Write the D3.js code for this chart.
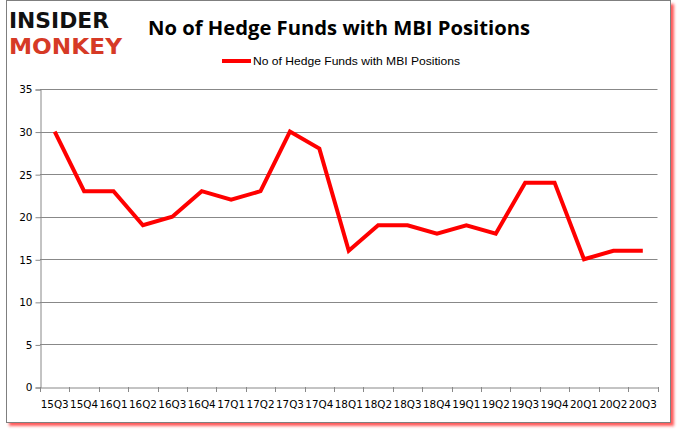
<!DOCTYPE html>
<html>
<head>
<meta charset="utf-8">
<script src="https://cdn.jsdelivr.net/npm/d3@7"></script>
<style>
  body { margin: 0; background: #fff; }
  svg { display: block; }
</style>
</head>
<body>
<svg id="chart" width="678" height="431"></svg>
<script>
// quarters and hedge fund counts
const quarters = ["15Q3", "15Q4", "16Q1", "16Q2", "16Q3", "16Q4", "17Q1", "17Q2", "17Q3", "17Q4",
  "18Q1", "18Q2", "18Q3", "18Q4", "19Q1", "19Q2", "19Q3", "19Q4", "20Q1", "20Q2", "20Q3"];
const funds = [30, 23, 23, 19, 20, 23, 22, 23, 30, 28, 16, 19, 19, 18, 19, 18, 24, 24, 15, 16, 16];
const yTicks = [0, 5, 10, 15, 20, 25, 30, 35];

const seriesName = "No of Hedge Funds with MBI Positions";
const tickFont = "'DejaVu Sans', sans-serif";

const svg = d3.select("#chart");

// frame with red drop shadow
const defs = svg.append("defs");
const f = defs.append("filter").attr("id", "blur").attr("x", "-5%").attr("y", "-5%").attr("width", "110%").attr("height", "110%");
f.append("feGaussianBlur").attr("stdDeviation", 1.8);
svg.append("rect").attr("x", 9).attr("y", 4).attr("width", 665).attr("height", 422)
  .attr("fill", "#ff2020").attr("opacity", 0.75).attr("filter", "url(#blur)");
svg.append("rect").attr("x", 6.5).attr("y", 0.5).attr("width", 664).attr("height", 422)
  .attr("fill", "#fff").attr("stroke", "#7f7f7f").attr("stroke-width", 1);

// logo
svg.append("text").attr("x", 9).attr("y", 28).text("INSIDER")
  .attr("font-family", "'DejaVu Sans', sans-serif").attr("font-weight", "bold")
  .attr("font-size", 21).attr("textLength", 100).attr("lengthAdjust", "spacingAndGlyphs")
  .attr("fill", "#111");
svg.append("text").attr("x", 9).attr("y", 54).text("MONKEY")
  .attr("font-family", "'DejaVu Sans', sans-serif").attr("font-weight", "bold")
  .attr("font-size", 21).attr("textLength", 113).attr("lengthAdjust", "spacingAndGlyphs")
  .attr("fill", "#d63a26");

// title
svg.append("text").attr("x", 339).attr("y", 35).attr("text-anchor", "middle")
  .text(seriesName)
  .attr("font-family", "'Open Sans', sans-serif").attr("font-weight", "bold")
  .attr("font-size", 19).attr("textLength", 382).attr("lengthAdjust", "spacingAndGlyphs")
  .attr("fill", "#000");

// legend
svg.append("line").attr("x1", 222).attr("x2", 251).attr("y1", 61).attr("y2", 61)
  .attr("stroke", "#ff0000").attr("stroke-width", 4);
svg.append("text").attr("x", 253).attr("y", 65).text(seriesName)
  .attr("font-family", "'Liberation Sans', Arial, sans-serif").attr("font-size", 11)
  .attr("textLength", 207).attr("lengthAdjust", "spacingAndGlyphs").attr("fill", "#000");

// plot area
const plotLeft = 40, plotRight = 657.5, plotTop = 89, plotBottom = 387;

const x = d3.scaleBand().domain(quarters).range([plotLeft, plotRight]);
const y = d3.scaleLinear().domain([0, 35]).range([plotBottom, plotTop]);

// gridlines
svg.append("g").selectAll("line").data(yTicks.filter(d => d > 0)).join("line")
  .attr("x1", plotLeft).attr("x2", plotRight)
  .attr("y1", d => Math.round(y(d)) + 0.5).attr("y2", d => Math.round(y(d)) + 0.5)
  .attr("stroke", "#888").attr("stroke-width", 1);

// y axis
const yAxis = svg.append("g").attr("transform", `translate(${plotLeft + 0.5},0.5)`)
  .call(d3.axisLeft(y).tickValues(yTicks).tickSize(5).tickPadding(3));
yAxis.select(".domain").attr("stroke", "#888");
yAxis.selectAll(".tick line").attr("stroke", "#888");
yAxis.selectAll("text").attr("font-family", tickFont).attr("font-size", 10.5).attr("fill", "#000");

// x axis, ticks on category boundaries
const xAxis = svg.append("g").attr("transform", `translate(0,${plotBottom + 0.5})`)
  .call(d3.axisBottom(x).tickSize(0).tickPadding(13));
xAxis.select(".domain").attr("stroke", "#888");
xAxis.selectAll("text").attr("font-family", tickFont).attr("font-size", 10.5).attr("fill", "#000")
  .attr("textLength", 28).attr("lengthAdjust", "spacingAndGlyphs");
const bounds = quarters.map(q => x(q)).concat([plotRight]);
svg.append("g").selectAll("line").data(bounds).join("line")
  .attr("x1", d => Math.round(d) + 0.5).attr("x2", d => Math.round(d) + 0.5)
  .attr("y1", plotBottom).attr("y2", plotBottom + 5)
  .attr("stroke", "#888");

// the line
const line = d3.line()
  .x((d, i) => x(quarters[i]) + x.bandwidth() / 2)
  .y(d => y(d));
svg.append("path").datum(funds).attr("d", line)
  .attr("fill", "none").attr("stroke", "#ff0000").attr("stroke-width", 4)
  .attr("stroke-linejoin", "miter");
</script>
</body>
</html>
